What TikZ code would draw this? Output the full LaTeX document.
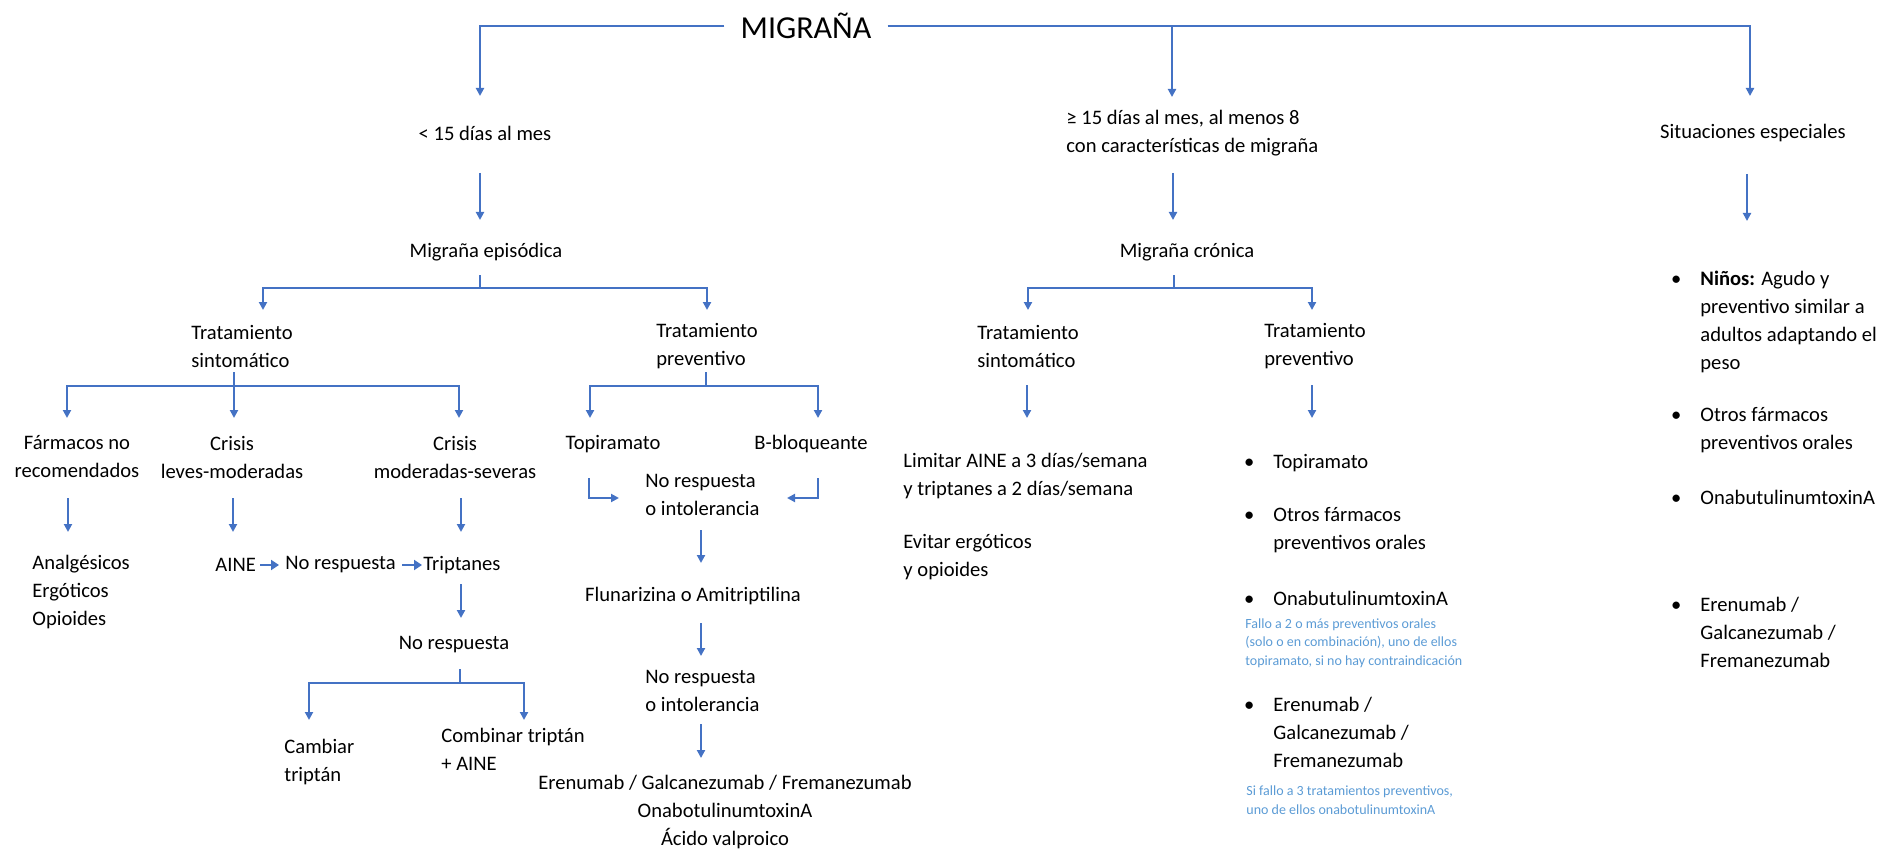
\documentclass[tikz,border=0pt]{standalone}
\usepackage{fontspec}
\setmainfont{Carlito}
\usetikzlibrary{arrows.meta}
\definecolor{lnblue}{HTML}{4472C4}
\definecolor{noteblue}{HTML}{5B9BD5}
\newcommand{\mybul}{\llap{\textbullet\hspace{9.5pt}}}
\tikzset{
  txt/.style={inner sep=0pt, font=\fontsize{10.3}{14}\selectfont, text=black},
  lt/.style={txt, align=left},
  ct/.style={txt, align=center},
  note/.style={inner sep=0pt, align=left, font=\fontsize{7}{9.2}\selectfont, text=noteblue},
  arr/.style={draw=lnblue, line width=1.1pt, -{Triangle[width=4pt,length=4pt]}},
  harr/.style={draw=lnblue, line width=1.4pt, -{Triangle[width=5pt,length=4pt]}},
  ln/.style={draw=lnblue, line width=1.2pt}
}
\begin{document}
\begin{tikzpicture}[x=0.5pt,y=-0.5pt]
\useasboundingbox (0,0) rectangle (1899,850);
% ---------- nodes ----------
\node[txt, font=\fontsize{16}{18}\selectfont, inner xsep=8pt] (migr) at (806,26) {MIGRAÑA};
\node[txt] (lt15) at (485,133) {< 15 días al mes};
\node[lt, anchor=west] (ge15) at (1066,133.5) {≥ 15 días al mes, al menos 8\\con características de migraña};
\node[txt] (sit) at (1753,133) {Situaciones especiales};
\node[txt] (epi) at (486,252) {Migraña episódica};
\node[txt] (cro) at (1187,252) {Migraña crónica};
\node[lt, anchor=west] (ets) at (191,346) {Tratamiento\\sintomático};
\node[lt, anchor=west] (etp) at (656,346) {Tratamiento\\preventivo};
\node[lt, anchor=west] (cts) at (977,346) {Tratamiento\\sintomático};
\node[lt, anchor=west] (ctp) at (1264,346) {Tratamiento\\preventivo};
\node[ct] (far) at (77,457) {Fármacos no\\recomendados};
\node[ct] (cl) at (232,457) {Crisis\\leves-moderadas};
\node[ct] (cm) at (455,457) {Crisis\\moderadas-severas};
\node[txt] (topi) at (613,444) {Topiramato};
\node[txt] (bblo) at (811,444) {B-bloqueante};
\node[lt, anchor=west] (nr1) at (645,495) {No respuesta\\o intolerancia};
\node[lt, anchor=west] (anal) at (32,592) {Analgésicos\\Ergóticos\\Opioides};
\node[txt, anchor=west] (aine) at (215,565) {AINE};
\node[txt, anchor=west] (nr2) at (285,565) {No respuesta};
\node[txt, anchor=west] (trip) at (423,565) {Triptanes};
\node[txt] (flu) at (693,596) {Flunarizina o Amitriptilina};
\node[lt, anchor=west] (nr3) at (645,691) {No respuesta\\o intolerancia};
\node[ct] (fin) at (725,812) {Erenumab / Galcanezumab / Fremanezumab\\OnabotulinumtoxinA\\Ácido valproico};
\node[txt] (nr4) at (454,645) {No respuesta};
\node[lt, anchor=west] (camb) at (284,762) {Cambiar\\triptán};
\node[lt, anchor=west] (comb) at (441,749) {Combinar triptán\\+ AINE};
\node[lt, anchor=west] (lim) at (903,476) {Limitar AINE a 3 días/semana\\y triptanes a 2 días/semana};
\node[lt, anchor=west] (evi) at (903,557) {Evitar ergóticos\\y opioides};
% chronic preventive list
\node[lt, anchor=west] (b1) at (1273,463) {\mybul Topiramato};
\node[lt, anchor=west] (b2) at (1273,530) {\mybul Otros fármacos\\preventivos orales};
\node[lt, anchor=west] (b3) at (1273,598) {\mybul OnabutulinumtoxinA};
\node[note, anchor=west] (n1) at (1245,643) {Fallo a 2 o más preventivos orales\\(solo o en combinación), uno de ellos\\topiramato, si no hay contraindicación};
\node[lt, anchor=west] (b4) at (1273,732) {\mybul Erenumab /\\Galcanezumab /\\Fremanezumab};
\node[note, anchor=west] (n2) at (1246,800) {Si fallo a 3 tratamientos preventivos,\\uno de ellos onabotulinumtoxinA};
% special situations list
\node[lt, anchor=west] (s1) at (1700,322) {\mybul\textbf{Niños:} Agudo y\\preventivo similar a\\adultos adaptando el\\peso};
\node[lt, anchor=west] (s2) at (1700,430) {\mybul Otros fármacos\\preventivos orales};
\node[lt, anchor=west] (s3) at (1700,497) {\mybul OnabutulinumtoxinA};
\node[lt, anchor=west] (s4) at (1700,632) {\mybul Erenumab /\\Galcanezumab /\\Fremanezumab};
% ---------- connectors ----------
\coordinate (a1) at (480,96);
\coordinate (a2) at (1172,97);
\coordinate (a3) at (1750,96);
\draw[arr] (migr.west) -| (a1);
\draw[arr] (migr.east) -| (a3);
\draw[arr] (migr.east -| a2) -- (a2);
\draw[arr] (480,173) -- (480,220);
\draw[arr] (1173,173) -- (1173,220);
\draw[arr] (1747,174) -- (1747,221);
% episodic bracket
\draw[ln] (480,275) -- (480,288);
\draw[arr] (480,288) -| (263,310);
\draw[arr] (480,288) -| (707,310);
% chronic bracket
\draw[ln] (1174,275) -- (1174,288);
\draw[arr] (1174,288) -| (1028,310);
\draw[arr] (1174,288) -| (1312,310);
% symptomatic bracket
\draw[ln] (234,372) -- (234,386);
\draw[arr] (234,386) -| (67,418);
\draw[arr] (234,386) -| (459,418);
\draw[arr] (234,386) -- (234,418);
% preventive bracket
\draw[ln] (706,372) -- (706,386);
\draw[arr] (706,386) -| (590,418);
\draw[arr] (706,386) -| (818,418);
% elbows into "No respuesta o intolerancia"
\draw[arr] (589,478) |- (619,498);
\draw[arr] (818,478) |- (787,498);
% down arrows
\draw[arr] (68,498) -- (68,532);
\draw[arr] (233,498) -- (233,532);
\draw[arr] (461,498) -- (461,532);
\draw[arr] (701,530) -- (701,563);
% AINE chain
\draw[harr, shorten <=2pt, shorten >=3pt] (aine.east) -- (nr2.west);
\draw[harr, shorten <=3pt, shorten >=0.5pt] (nr2.east) -- (trip.west);
\draw[arr] (461,584) -- (461,618);
% no respuesta bracket
\draw[ln] (460,669) -- (460,683);
\draw[arr] (460,683) -| (309,720);
\draw[arr] (460,683) -| (524,720);
% preventive chain
\draw[arr] (701,623) -- (701,656);
\draw[arr] (701,724) -- (701,758);
% chronic arrows
\draw[arr] (1027,385) -- (1027,418);
\draw[arr] (1312,385) -- (1312,418);
\end{tikzpicture}
\end{document}
